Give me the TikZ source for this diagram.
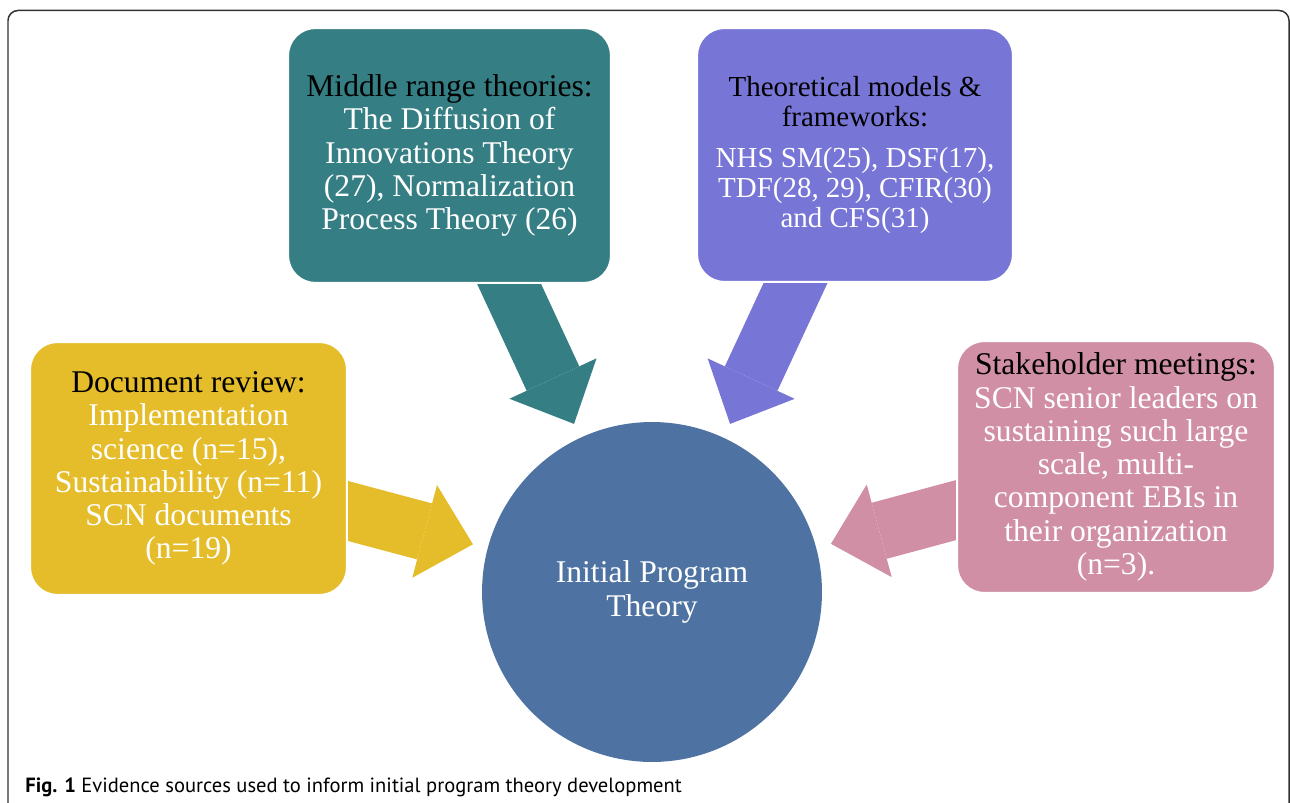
\documentclass[tikz,border=0pt]{standalone}
\usepackage{fontspec}
\setmainfont{Liberation Serif}
\newfontfamily\capfont{PT Sans}
\usepackage{xcolor}
\usetikzlibrary{arrows.meta}
\usetikzlibrary{backgrounds}

\definecolor{mrtcol}{HTML}{357E84}
\definecolor{tmfcol}{HTML}{7775D5}
\definecolor{doccol}{HTML}{E5BD2A}
\definecolor{stkcol}{HTML}{D08FA5}
\definecolor{iptcol}{HTML}{4E73A2}

\begin{document}
\begin{tikzpicture}[x=0.02cm, y=-0.02cm,
	src/.style={rounded corners=0.55cm, draw=white, line width=0.04cm, text=white, align=center, inner sep=0pt, font=\fontsize{18}{18.9}\selectfont},
	flow/.style={line width=1.16cm, shorten >=0.3cm, -{Triangle[length=1cm, width=1.92cm, line width=0pt]}}]
	\useasboundingbox (0,0) rectangle (1290,803);
	\draw[black!80, line width=0.03cm, rounded corners=0.2cm] (8,10.5) rectangle (1289,840);
	\node[src, fill=mrtcol, minimum width=6.46cm, minimum height=5.1cm] (mrt) at (449.5,155.5) {{\color{black}Middle range theories:}\\The Diffusion of\\Innovations Theory\\(27), Normalization\\Process Theory (26)};
	\node[src, fill=tmfcol, minimum width=6.32cm, minimum height=5.08cm, font=\fontsize{16.5}{17}\selectfont] (tmf) at (855,155) {{\color{black}Theoretical models \&}\\{\color{black}frameworks:}\\[6.8pt]NHS SM(25), DSF(17),\\TDF(28, 29), CFIR(30)\\and CFS(31)};
	\node[src, fill=doccol, minimum width=6.34cm, minimum height=5.06cm] (docs) at (188.5,468.5) {{\color{black}Document review:}\\Implementation\\science (n=15),\\Sustainability (n=11)\\SCN documents\\(n=19)};
	\node[src, fill=stkcol, minimum width=6.36cm, minimum height=5.04cm] (stake) at (1116,467) {{\color{black}Stakeholder meetings:}\\SCN senior leaders on\\sustaining such large\\scale, multi-\\component EBIs in\\their organization\\(n=3).};
	\node[circle, fill=iptcol, minimum size=6.8cm, text=white, align=center, inner sep=0pt, font=\fontsize{18}{18.9}\selectfont] (ipt) at (652,592) {Initial Program\\Theory};
	\begin{scope}[on background layer]
		\draw[flow, mrtcol] (mrt.center) -- (ipt);
		\draw[flow, tmfcol] (tmf.center) -- (ipt);
		\draw[flow, doccol] (docs.center) -- (ipt);
		\draw[flow, stkcol] (stake.center) -- (ipt);
	\end{scope}
	\node[anchor=base west, inner sep=0pt, font=\capfont\fontsize{11.7}{13}\selectfont] (cap) at (25,792) {\textbf{Fig. 1} Evidence sources used to inform initial program theory development};
\end{tikzpicture}
\end{document}
